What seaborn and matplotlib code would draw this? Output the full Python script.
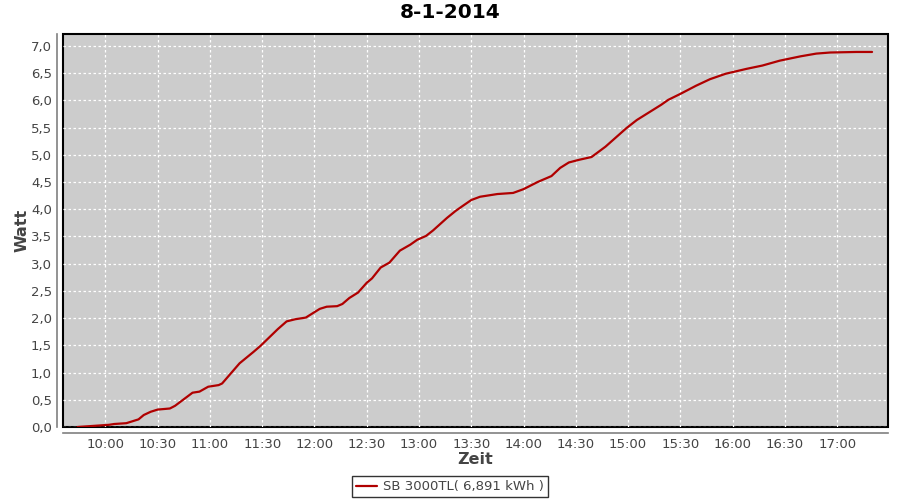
import numpy as np
import pandas as pd
import matplotlib
matplotlib.use("Agg")
import matplotlib.pyplot as plt
import matplotlib.dates as mdates
from matplotlib.ticker import FuncFormatter, MultipleLocator
import seaborn as sns

# readings of the day (time, cumulative energy)
times = ["09:44", "09:53", "10:02", "10:05", "10:12", "10:19", "10:22", "10:26",
         "10:30", "10:37", "10:40", "10:45", "10:50", "10:54", "10:59", "11:05",
         "11:07", "11:17", "11:25", "11:29", "11:39", "11:44", "11:49", "11:55",
         "11:58", "12:03", "12:07", "12:13", "12:16", "12:20", "12:25", "12:30",
         "12:33", "12:38", "12:43", "12:49", "12:55", "12:59", "13:04", "13:08",
         "13:16", "13:21", "13:25", "13:30", "13:35", "13:41", "13:45", "13:54",
         "14:00", "14:08", "14:16", "14:21", "14:26", "14:32", "14:39", "14:47",
         "14:59", "15:05", "15:13", "15:19", "15:23", "15:30", "15:39", "15:47",
         "15:56", "16:08", "16:17", "16:27", "16:39", "16:48", "16:56", "17:11",
         "17:20"]
watt = [0.00, 0.02, 0.04, 0.055, 0.07, 0.14, 0.22, 0.28,
        0.32, 0.34, 0.39, 0.51, 0.63, 0.65, 0.74, 0.77,
        0.80, 1.17, 1.38, 1.49, 1.80, 1.94, 1.98, 2.01,
        2.07, 2.17, 2.21, 2.22, 2.26, 2.37, 2.47, 2.65,
        2.73, 2.93, 3.02, 3.24, 3.35, 3.44, 3.51, 3.61,
        3.84, 3.97, 4.06, 4.17, 4.23, 4.26, 4.28, 4.30,
        4.37, 4.50, 4.61, 4.76, 4.86, 4.91, 4.96, 5.15,
        5.49, 5.64, 5.80, 5.92, 6.01, 6.12, 6.27, 6.39,
        6.49, 6.58, 6.64, 6.73, 6.81, 6.86, 6.88, 6.89,
        6.89]
day = "2014-01-08"
series_name = "SB 3000TL( 6,891 kWh )"

df = pd.DataFrame({"Zeit": pd.to_datetime([day + " " + t for t in times]),
                   "Watt": watt})

sns.set_style("white")
plt.rcParams["font.family"] = ["DejaVu Sans"]

fig = plt.figure(figsize=(9, 5), dpi=100)
ax = fig.add_axes([0.07, 0.146, 0.9167, 0.786])
ax.set_facecolor("#cccccc")

sns.lineplot(data=df, x="Zeit", y="Watt", ax=ax, color="#b00000",
             linewidth=1.6, label=series_name, legend=False)

ax.set_xlim(pd.Timestamp(day + " 09:35:40"), pd.Timestamp(day + " 17:29:10"))
ax.set_ylim(0, 7.22)

ax.xaxis.set_major_locator(mdates.MinuteLocator(byminute=[0, 30]))
ax.xaxis.set_major_formatter(mdates.DateFormatter("%H:%M"))
ax.yaxis.set_major_locator(MultipleLocator(0.5))
ax.yaxis.set_major_formatter(FuncFormatter(lambda v, p: f"{v:.1f}".replace(".", ",")))

ax.grid(True, color="white", linestyle=(0, (2, 2)), linewidth=0.9)

# border around the plot area, axis lines offset in gray
ax.patch.set_edgecolor("black")
ax.patch.set_linewidth(1.5)
for s in ["top", "right"]:
    ax.spines[s].set_color("black")
    ax.spines[s].set_linewidth(1.2)
for s in ["left", "bottom"]:
    ax.spines[s].set_position(("outward", 4))
    ax.spines[s].set_color("#808080")
    ax.spines[s].set_linewidth(1.2)

ax.tick_params(axis="both", colors="#808080", length=2, width=1,
               labelcolor="#444444", labelsize=9.5, pad=2)

ax.set_xlabel("Zeit", fontsize=11.5, fontweight="bold", color="#444444", labelpad=1)
ax.set_ylabel("Watt", fontsize=11.5, fontweight="bold", color="#444444", labelpad=1)

fig.suptitle("8-1-2014", fontsize=14.5, fontweight="bold", color="black",
             x=0.5, y=0.975, va="center")

h, l = ax.get_legend_handles_labels()
leg = fig.legend(h, l, loc="lower center", bbox_to_anchor=(0.5, 0.0),
                 frameon=True, fancybox=False, fontsize=9.5,
                 handlelength=1.6, handletextpad=0.4, borderpad=0.3,
                 borderaxespad=0.2)
leg.get_frame().set_edgecolor("black")
leg.get_frame().set_linewidth(1.0)
for t in leg.get_texts():
    t.set_color("#444444")

fig.savefig("out.png", dpi=100)
